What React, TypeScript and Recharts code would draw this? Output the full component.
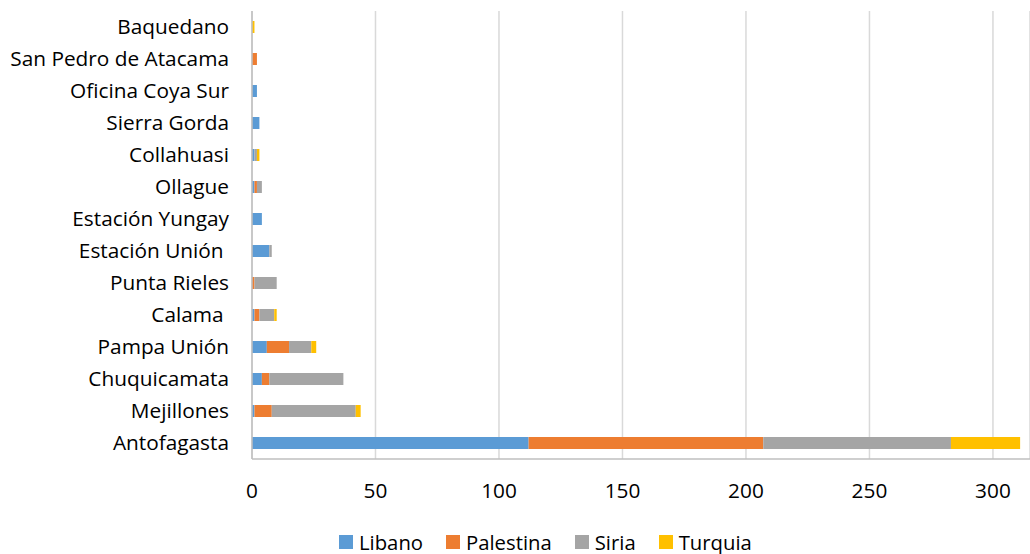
import React from "react";
import { BarChart, Bar, XAxis, YAxis, CartesianGrid, Legend } from "recharts";

const categories = [
  "Antofagasta",
  "Mejillones",
  "Chuquicamata",
  "Pampa Unión",
  "Calama\u00A0",
  "Punta Rieles",
  "Estación Unión\u00A0",
  "Estación Yungay",
  "Ollague",
  "Collahuasi",
  "Sierra Gorda",
  "Oficina Coya Sur",
  "San Pedro de Atacama",
  "Baquedano",
];
const libano = [112, 1, 4, 6, 1, 0, 7, 4, 1, 1, 3, 2, 0, 0];
const palestina = [95, 7, 3, 9, 2, 1, 0, 0, 1, 0, 0, 0, 2, 0];
const siria = [76, 34, 30, 9, 6, 9, 1, 0, 2, 1, 0, 0, 0, 0];
const turquia = [28, 2, 0, 2, 1, 0, 0, 0, 0, 1, 0, 0, 0, 1];
const xTicks = [0, 50, 100, 150, 200, 250, 300];

const seriesNames = ["Libano", "Palestina", "Siria", "Turquia"];
const seriesColors = ["#5B9BD5", "#ED7D31", "#A5A5A5", "#FFC000"];

const data = categories.map((name, i) => ({
  name,
  Libano: libano[i],
  Palestina: palestina[i],
  Siria: siria[i],
  Turquia: turquia[i],
}));

const FONT = "'Open Sans', Lato, sans-serif";
const FS = 20.8;
const LFS = 20.3;

const renderLegend = () => (
  <div
    style={{
      height: 55,
      display: "flex",
      alignItems: "flex-end",
      paddingLeft: 339,
      boxSizing: "border-box",
      paddingBottom: 0,
      fontFamily: FONT,
      fontSize: LFS,
      color: "#000",
    }}
  >
    {seriesNames.map((n, i) => (
      <div
        key={n}
        style={{ display: "flex", alignItems: "center", height: 24, marginRight: 23 }}
      >
        <span
          style={{
            width: 14,
            height: 14,
            background: seriesColors[i],
            display: "inline-block",
            marginRight: 6,
          }}
        />
        <span>{n}</span>
      </div>
    ))}
  </div>
);

export default function App() {
  return (
    <div style={{ position: "absolute", left: 0, top: 0, background: "#fff" }}>
      <BarChart
        width={1030}
        height={554}
        data={data}
        layout="vertical"
        margin={{ top: 11, right: 0, left: 0, bottom: 0 }}
        barSize={12}
      >
        <CartesianGrid horizontal={false} stroke="#d9d9d9" strokeWidth={1.5} />
        <XAxis
          type="number"
          domain={[0, 315]}
          ticks={xTicks}
          allowDataOverflow
          tickLine={false}
          tickMargin={18}
          height={40}
          axisLine={{ stroke: "#bfbfbf", strokeWidth: 1.5 }}
          tick={{ fill: "#000", fontSize: FS, fontFamily: FONT }}
        />
        <XAxis
          xAxisId="top"
          orientation="top"
          type="number"
          domain={[0, 315]}
          height={0}
          tick={false}
          tickLine={false}
          axisLine={{ stroke: "#7f7f7f", strokeWidth: 1.5 }}
        />
        <YAxis
          type="category"
          dataKey="name"
          reversed
          width={252}
          tickLine={false}
          tickMargin={17}
          interval={0}
          axisLine={{ stroke: "#bfbfbf", strokeWidth: 1.5 }}
          tick={{ fill: "#000", fontSize: FS, fontFamily: FONT }}
        />
        <Legend verticalAlign="bottom" content={renderLegend} />
        {seriesNames.map((n, i) => (
          <Bar
            key={n}
            dataKey={n}
            stackId="a"
            fill={seriesColors[i]}
            isAnimationActive={false}
          />
        ))}
      </BarChart>
    </div>
  );
}
